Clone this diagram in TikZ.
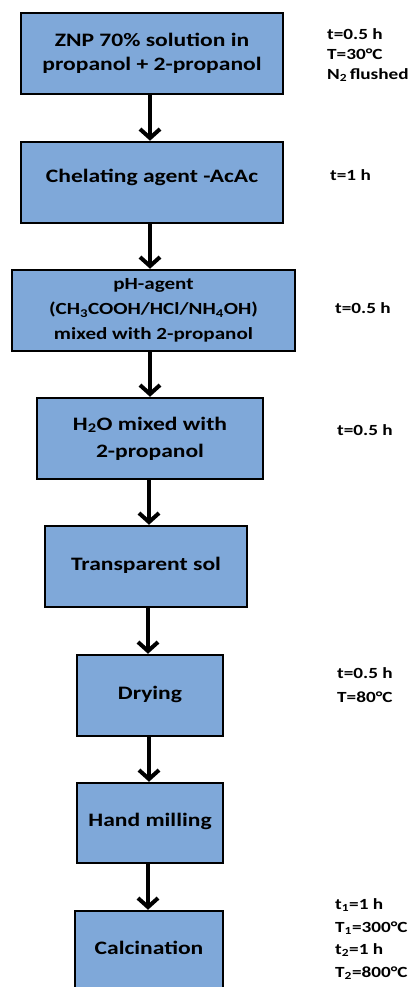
\documentclass[tikz,border=0pt]{standalone}
\usepackage{fontspec}
\setmainfont[FakeStretch=1.24]{Carlito}
\usetikzlibrary{arrows.meta}
\definecolor{boxblue}{RGB}{127,168,217}
\begin{document}
\begin{tikzpicture}[x=1pt,y=-1pt,
  stepbox/.style={draw=black, line width=2.5pt, fill=boxblue, align=center,
    inner sep=0pt, anchor=center, font=\bfseries\fontsize{19}{24.5}\selectfont},
  tup/.style={text height=14pt, text depth=#1},
  arr/.style={line width=4pt, -{Straight Barb[length=9pt,width=20pt,line width=4pt]}},
  cond/.style={anchor=west, align=left, inner sep=0pt,
    font=\bfseries\fontsize{15.5}{21}\selectfont}]
\useasboundingbox (0,0) rectangle (411,987);
\clip (0,0) rectangle (411,987);

\node[stepbox, minimum width=262, minimum height=81] (b1) at (152,53.5)
  {ZNP 70\% solution in\\propanol + 2-propanol};
\node[stepbox, tup=14pt, minimum width=262, minimum height=81] (b2) at (152,182.5)
  {Chelating agent -AcAc};
\node[stepbox, font=\bfseries\fontsize{17}{25}\selectfont,
  minimum width=283, minimum height=81] (b3) at (153.5,310.5)
  {pH-agent\\(CH\textsubscript{3}COOH/HCl/NH\textsubscript{4}OH)\\mixed with 2-propanol};
\node[stepbox, font=\bfseries\fontsize{19}{27}\selectfont,
  minimum width=226, minimum height=81] (b4) at (150,438.5)
  {H\textsubscript{2}O mixed with\\2-propanol};
\node[stepbox, tup=7pt, minimum width=202, minimum height=81] (b5) at (146,566.5)
  {Transparent sol};
\node[stepbox, tup=7pt, minimum width=146, minimum height=81] (b6) at (150,695.5)
  {Drying};
\node[stepbox, tup=7pt, minimum width=146, minimum height=80] (b7) at (150,823)
  {Hand milling};
\node[stepbox, tup=7pt, minimum width=148, minimum height=80] (b8) at (149,951)
  {Calcination};

\draw[arr] (b1.south -| 150,0) -- (b2.north -| 150,0);
\draw[arr] (b2.south -| 150,0) -- (b3.north -| 150,0);
\draw[arr] (b3.south -| 150,0) -- (b4.north -| 150,0);
\draw[arr] (b4.south -| 149,0) -- (b5.north -| 149,0);
\draw[arr] (b5.south -| 148,0) -- (b6.north -| 148,0);
\draw[arr] (b6.south -| 149,0) -- (b7.north -| 149,0);
\draw[arr] (b7.south -| 148,0) -- (b8.north -| 148,0);

\node[cond, font=\bfseries\fontsize{15.5}{20}\selectfont] (c1) at (327,55)
  {t=0.5 h\\T=30°C\\N\textsubscript{2}\,flushed};
\node[cond] (c2) at (330,175) {t=1 h};
\node[cond] (c3) at (335,308) {t=0.5 h};
\node[cond] (c4) at (337,430) {t=0.5 h};
\node[cond, font=\bfseries\fontsize{15.5}{24}\selectfont] (c6) at (337,685) {t=0.5 h\\T=80°C};
\node[cond, font=\bfseries\fontsize{15.5}{22.7}\selectfont] (c8) at (335,939)
  {t\textsubscript{1}=1 h\\T\textsubscript{1}=300°C\\t\textsubscript{2}=1 h\\T\textsubscript{2}=800°C};
\end{tikzpicture}
\end{document}
